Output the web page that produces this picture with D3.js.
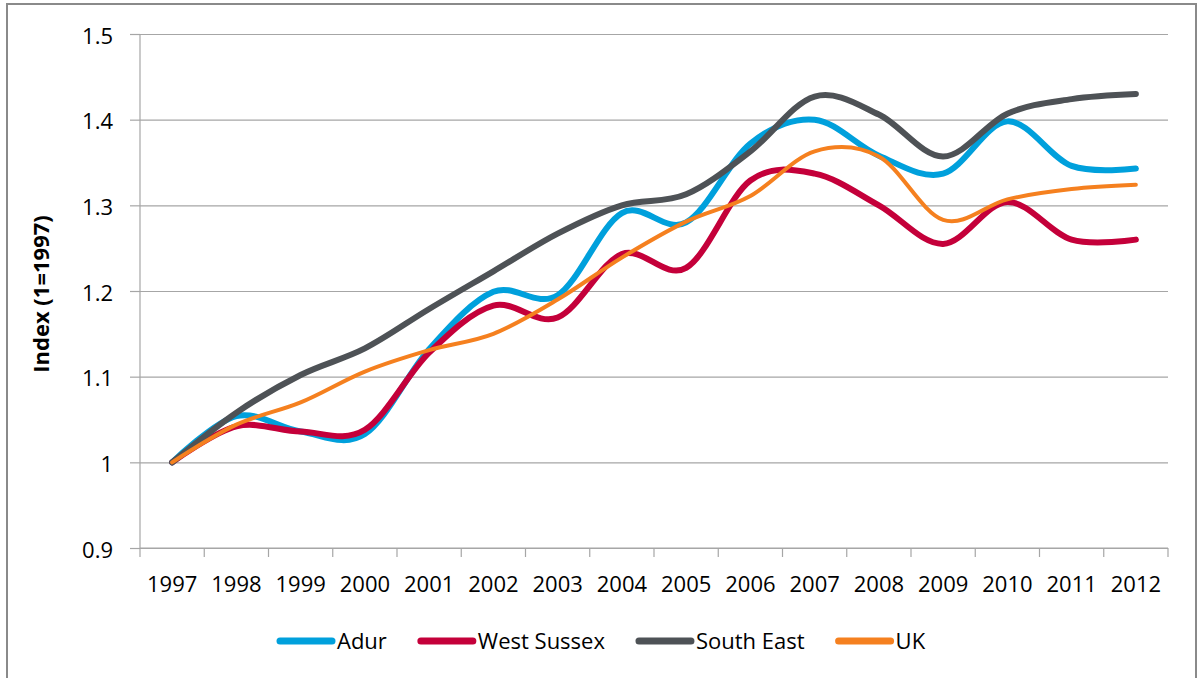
<!DOCTYPE html>
<html>
<head>
<meta charset="utf-8">
<script src="https://d3js.org/d3.v7.min.js"></script>
<style>
  body { margin: 0; background: #fff; }
  svg { display: block; font-family: "Open Sans", sans-serif; }
</style>
</head>
<body>
<svg id="chart" width="1202" height="678"></svg>
<script>
// Chart data
const years = ["1997", "1998", "1999", "2000", "2001", "2002", "2003", "2004",
               "2005", "2006", "2007", "2008", "2009", "2010", "2011", "2012"];
const adur = [1.000, 1.054, 1.036, 1.033, 1.132, 1.199, 1.195, 1.291,
              1.280, 1.372, 1.400, 1.358, 1.337, 1.398, 1.346, 1.343];
const westSussex = [1.000, 1.042, 1.036, 1.038, 1.128, 1.183, 1.169, 1.243,
                    1.227, 1.329, 1.337, 1.300, 1.255, 1.304, 1.260, 1.260];
const southEast = [1.000, 1.058, 1.102, 1.133, 1.179, 1.223, 1.267, 1.300,
                   1.313, 1.363, 1.427, 1.406, 1.357, 1.407, 1.424, 1.430];
const uk = [1.000, 1.044, 1.070, 1.106, 1.131, 1.150, 1.190, 1.239,
            1.281, 1.311, 1.363, 1.357, 1.283, 1.307, 1.319, 1.324];
const yTicks = [0.9, 1.0, 1.1, 1.2, 1.3, 1.4, 1.5];

const series = [
  { name: "Adur", values: adur, color: "#00A0DC", width: 6 },
  { name: "West Sussex", values: westSussex, color: "#C4003A", width: 6 },
  { name: "South East", values: southEast, color: "#4E5256", width: 6 },
  { name: "UK", values: uk, color: "#F5801F", width: 4 }
];

const svg = d3.select("#chart");

// outer frame
svg.append("rect")
    .attr("x", 7).attr("y", 4)
    .attr("width", 1189).attr("height", 700)
    .attr("fill", "#fff")
    .attr("stroke", "#8a8a8a")
    .attr("stroke-width", 2);

const plotLeft = 140, plotRight = 1168, plotTop = 34, plotBottom = 548;

const x = d3.scaleBand().domain(years).range([plotLeft, plotRight]);
const y = d3.scaleLinear().domain([0.9, 1.5]).range([plotBottom, plotTop]);
const cx = d => x(d) + x.bandwidth() / 2;

// gridlines
svg.append("g")
    .attr("transform", `translate(${plotLeft},0)`)
    .call(d3.axisLeft(y).tickValues(yTicks).tickSize(-(plotRight - plotLeft)).tickFormat(""))
    .call(g => g.select(".domain").remove())
    .call(g => g.selectAll("line").attr("stroke", "#a6a6a6").attr("stroke-width", 1.2));

// y axis
svg.append("g")
    .attr("transform", `translate(${plotLeft},0)`)
    .call(d3.axisLeft(y).tickValues(yTicks).tickSize(10).tickPadding(17)
        .tickFormat(d => d === 1 ? "1" : d3.format(".1f")(d)))
    .call(g => g.select(".domain").remove())
    .call(g => g.selectAll("line").attr("stroke", "#a6a6a6").attr("stroke-width", 1.2))
    .call(g => g.selectAll("text").attr("font-size", 22).attr("fill", "#000")
        .attr("font-family", "Open Sans").attr("dy", "0.42em"));

svg.append("line")
    .attr("x1", plotLeft).attr("x2", plotLeft)
    .attr("y1", plotTop).attr("y2", plotBottom + 9)
    .attr("stroke", "#a6a6a6").attr("stroke-width", 1.2);

// x axis
svg.append("line")
    .attr("x1", plotLeft).attr("x2", plotRight)
    .attr("y1", plotBottom).attr("y2", plotBottom)
    .attr("stroke", "#a6a6a6").attr("stroke-width", 1.2);

svg.append("g").selectAll("line")
    .data(years.slice(1).map(d => x(d)).concat([plotRight]))
    .enter().append("line")
    .attr("x1", d => d).attr("x2", d => d)
    .attr("y1", plotBottom).attr("y2", plotBottom + 9)
    .attr("stroke", "#a6a6a6").attr("stroke-width", 1.2);

svg.append("g")
    .attr("transform", `translate(0,${plotBottom})`)
    .call(d3.axisBottom(x).tickSize(0).tickPadding(28))
    .call(g => g.select(".domain").remove())
    .call(g => g.selectAll("text").attr("font-size", 22).attr("fill", "#000")
        .attr("font-family", "Open Sans"));

// y title
svg.append("text")
    .attr("transform", "translate(49,294) rotate(-90)")
    .attr("text-anchor", "middle")
    .attr("font-size", 22)
    .attr("font-weight", "bold")
    .text("Index (1=1997)");

// lines
const line = d3.line()
    .x((d, i) => cx(years[i]))
    .y(d => y(d))
    .curve(d3.curveCatmullRom.alpha(0));

svg.append("g").selectAll("path")
    .data(series)
    .enter().append("path")
    .attr("d", d => line(d.values))
    .attr("fill", "none")
    .attr("stroke", d => d.color)
    .attr("stroke-width", d => d.width)
    .attr("stroke-linecap", "round")
    .attr("stroke-linejoin", "round");

// legend
const legend = svg.append("g");
let lx = 277;
series.forEach(s => {
  legend.append("line")
      .attr("x1", lx + 3).attr("x2", lx + 55)
      .attr("y1", 641).attr("y2", 641)
      .attr("stroke", s.color)
      .attr("stroke-width", 7)
      .attr("stroke-linecap", "round");
  const t = legend.append("text")
      .attr("x", lx + 60).attr("y", 649)
      .attr("font-size", 22)
      .text(s.name);
  lx += 60 + t.node().getComputedTextLength() + 31;
});
</script>
</body>
</html>
